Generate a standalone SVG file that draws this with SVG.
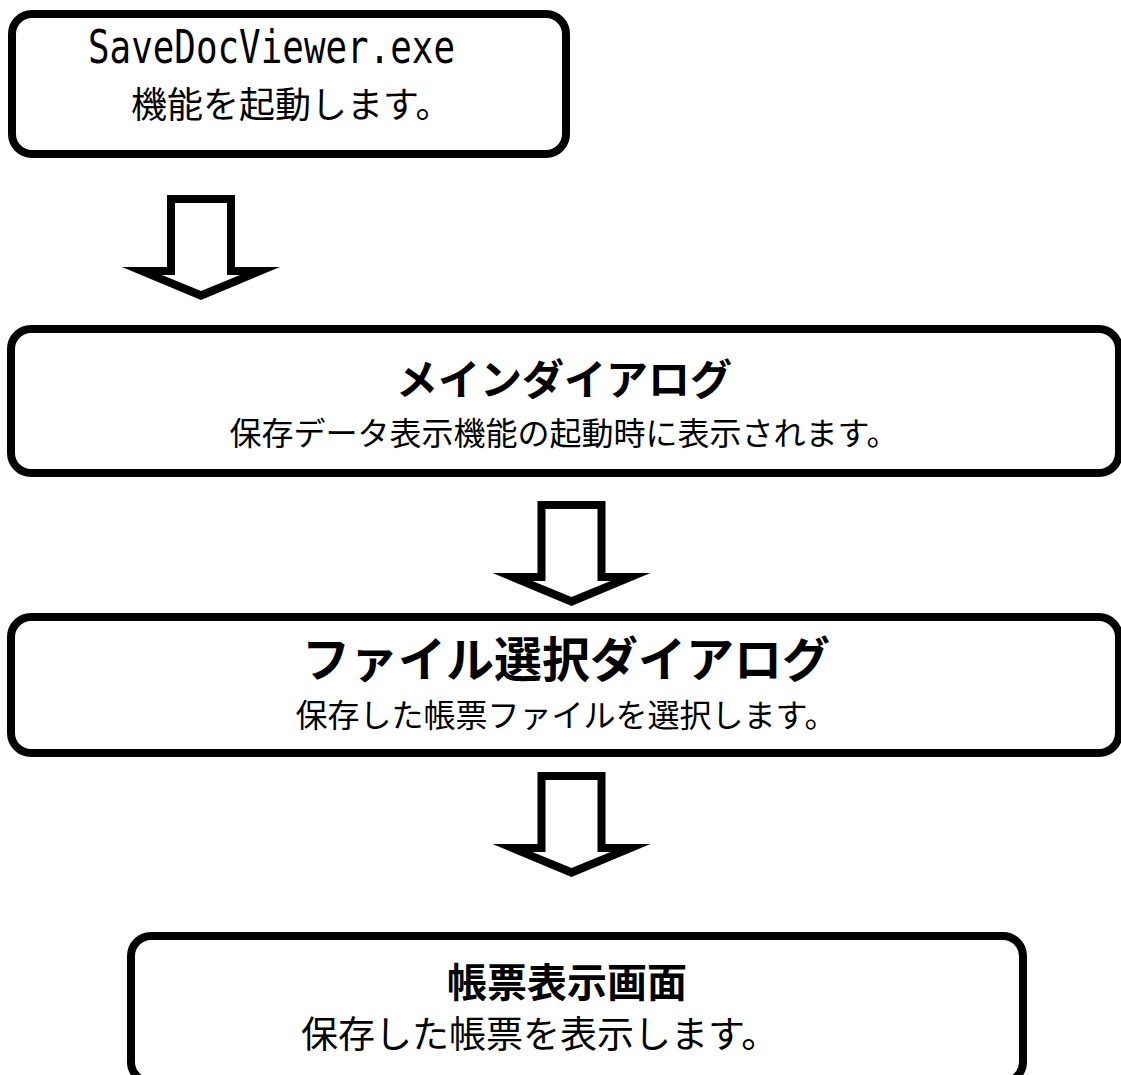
<svg xmlns="http://www.w3.org/2000/svg" xmlns:xlink="http://www.w3.org/1999/xlink" width="1121" height="1075" viewBox="0 0 1121 1075">
<style>
.box{fill:#fff;stroke:#000;stroke-width:8}
.arrow{fill:#000;fill-rule:evenodd}
.t{font-family:"Noto Sans CJK JP","Noto Sans",sans-serif;font-weight:bold;font-size:42px;fill:#000;text-anchor:middle}
.s{font-family:"Noto Sans CJK JP","Noto Sans",sans-serif;font-size:32px;fill:#000;text-anchor:middle}
.m{font-family:"DejaVu Sans Mono","Liberation Mono",monospace;font-size:46px;fill:#000}
</style>
<defs>
<path id="arr" d="M167,195 H235 V267 H280 L201,300 L122,267 H167 Z M175,203 V275 H162 L201,291 L240,275 H227 V203 Z"/>
</defs>
<rect width="1121" height="1075" fill="#fff"/>
<g id="connectors">
<use xlink:href="#arr" class="arrow"/>
<use xlink:href="#arr" class="arrow" transform="translate(370.5,306)"/>
<use xlink:href="#arr" class="arrow" transform="translate(370.5,577)"/>
</g>
<g id="node1">
<rect class="box" x="12" y="14" width="554" height="140" rx="20"/>
<text class="m" x="88" y="63" textLength="367" lengthAdjust="spacingAndGlyphs">SaveDocViewer.exe</text>
<text class="s" x="131" y="118" style="font-size:36px;text-anchor:start">機能を起動します。</text>
</g>
<g id="node2">
<rect class="box" x="11" y="329" width="1108" height="144" rx="20"/>
<text class="t" x="564" y="395">メインダイアログ</text>
<text class="s" x="564" y="445">保存データ表示機能の起動時に表示されます。</text>
</g>
<g id="node3">
<rect class="box" x="11" y="617" width="1108" height="136" rx="20"/>
<text class="t" x="566" y="677" style="font-size:48px">ファイル選択ダイアログ</text>
<text class="s" x="566" y="727">保存した帳票ファイルを選択します。</text>
</g>
<g id="node4">
<rect class="box" x="131" y="936" width="892" height="146" rx="20"/>
<text class="t" x="567" y="997" style="font-size:40px">帳票表示画面</text>
<text class="s" x="301" y="1048" style="font-size:37px;text-anchor:start">保存した帳票を表示します。</text>
</g>
</svg>
